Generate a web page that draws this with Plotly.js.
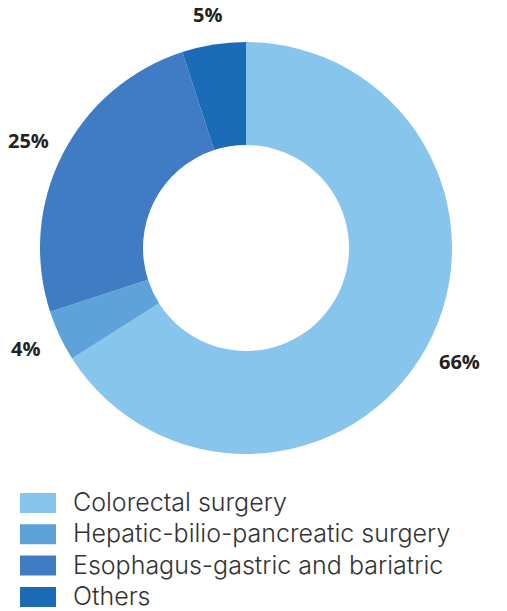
<!DOCTYPE html>
<html>
<head>
<meta charset="utf-8">
<script src="https://cdn.plot.ly/plotly-3.0.1.min.js"></script>
<style>html,body{margin:0;padding:0;background:#fff;}#chart{width:507px;height:611px;}</style>
</head>
<body>
<div id="chart"></div>
<script>
const categories = ["Colorectal surgery", "Hepatic-bilio-pancreatic surgery", "Esophagus-gastric and bariatric", "Others"];
const shares = [66, 4, 25, 5];
const sliceColors = ["#88C5ED", "#5DA3D9", "#3F7CC4", "#1B6BB6"];

const W = 507, H = 611;
// pie geometry (pixels)
const CX = 246, CY = 248, R = 206;
const domX = [(CX - R) / W, (CX + R) / W];
const domY = [1 - (CY + R) / H, 1 - (CY - R) / H];

const total = shares.reduce((a, b) => a + b, 0);
const annotations = [];
const shapes = [];
let cum = 0;
const labelA = 244, labelB = 236;
shares.forEach((v, i) => {
  const th = 2 * Math.PI * (cum + v / 2) / total;
  cum += v;
  const px = CX + labelA * Math.sin(th);
  const py = CY - labelB * Math.cos(th);
  annotations.push({
    x: px / W, y: 1 - py / H, xref: "paper", yref: "paper",
    text: "<b>" + v + "%</b>", showarrow: false,
    xanchor: "center", yanchor: "middle",
    font: {family: "Open Sans", size: 20, weight: 700, color: "#222222"}
  });
});

// custom legend
const legTop = 493, legStep = 31.3, boxW = 36, boxH = 20, boxX = 20, textX = 71;
categories.forEach((c, i) => {
  const y0 = legTop + i * legStep;
  shapes.push({
    type: "rect", xref: "paper", yref: "paper",
    x0: boxX / W, x1: (boxX + boxW) / W,
    y0: 1 - (y0 + boxH) / H, y1: 1 - y0 / H,
    fillcolor: sliceColors[i], line: {width: 0}
  });
  annotations.push({
    x: textX / W, y: 1 - (y0 + boxH / 2 - 1) / H, xref: "paper", yref: "paper",
    text: c, showarrow: false, xanchor: "left", yanchor: "middle",
    font: {family: "Inter", size: 25, weight: 300, color: "#333333"}
  });
});

const data = [{
  type: "pie",
  labels: categories,
  values: shares,
  hole: 0.5,
  sort: false,
  direction: "clockwise",
  rotation: 0,
  marker: {colors: sliceColors, line: {width: 0}},
  textinfo: "none",
  hoverinfo: "label+percent",
  domain: {x: domX, y: domY}
}];

const layout = {
  width: W, height: H,
  margin: {l: 0, r: 0, t: 0, b: 0},
  showlegend: false,
  paper_bgcolor: "#ffffff",
  annotations: annotations,
  shapes: shapes
};

Plotly.newPlot("chart", data, layout, {displayModeBar: false, staticPlot: true});
</script>
</body>
</html>
